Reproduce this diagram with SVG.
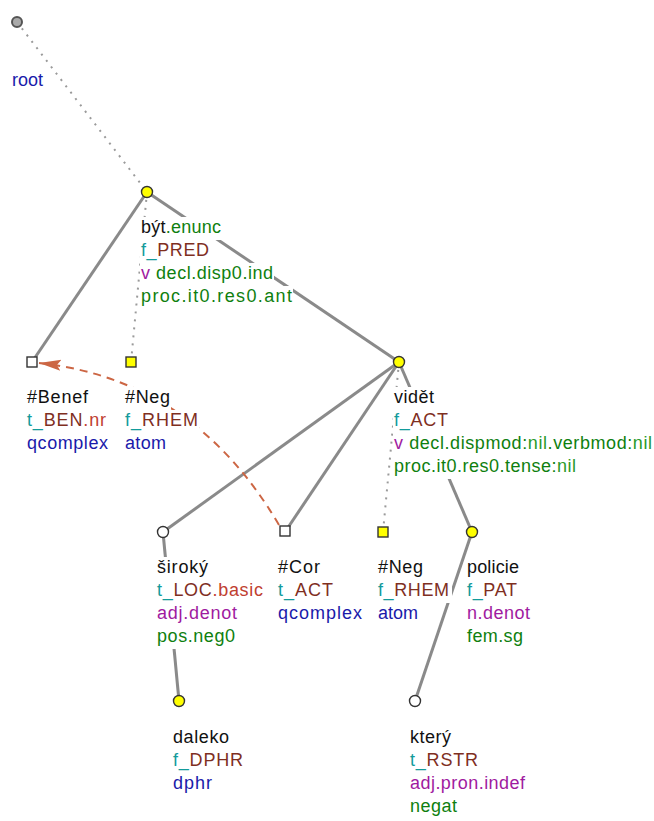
<svg xmlns="http://www.w3.org/2000/svg" width="654" height="821" viewBox="0 0 654 821">
<style>
text{font-family:"Liberation Sans",Arial,sans-serif;font-size:18px;fill:#111}
.bg{fill:#fff}
.e{stroke:#8a8a8a;stroke-width:3;fill:none}
.d{stroke:#9a9a9a;stroke-width:2;stroke-dasharray:2 6;fill:none}
.cor{stroke:#cc6644;stroke-width:2;stroke-dasharray:8 6;fill:none}
.ny{fill:#ffff00;stroke:#333;stroke-width:1.4}
.nw{fill:#fff;stroke:#333;stroke-width:1.4}
.nr{fill:#aaa;stroke:#555;stroke-width:2}
.k{fill:#111}.t{fill:#139b9b}.b{fill:#7f2f1f}.r{fill:#c04030}.u{fill:#1a1aaa}.p{fill:#a01aa0}.g{fill:#0f7f0f}.l{fill:#2a9a2a}
</style>
<defs>
<marker id="ar" markerUnits="userSpaceOnUse" markerWidth="24" markerHeight="14" viewBox="0 0 24 14" refX="22" refY="7" orient="auto"><path d="M0,1.5 L22,7 L0,12.5 L4,7 z" fill="#cc6644"/></marker>
</defs>
<rect width="654" height="821" fill="#fff"/>
<g id="connectors">
<line class="d" x1="17" y1="22" x2="147" y2="192"/>
<line class="e" x1="147" y1="192" x2="32" y2="362"/>
<line class="d" x1="147" y1="192" x2="131" y2="362"/>
<line class="e" x1="147" y1="192" x2="399" y2="362"/>
<line class="e" x1="399" y1="362" x2="163" y2="532"/>
<line class="e" x1="399" y1="362" x2="285" y2="532"/>
<line class="d" x1="399" y1="362" x2="383" y2="532"/>
<line class="e" x1="399" y1="362" x2="472" y2="532"/>
<line class="e" x1="163" y1="532" x2="179" y2="701"/>
<line class="e" x1="472" y1="532" x2="415" y2="701"/>
<path class="cor" d="M279,525 Q193.5,379.5 39,363" marker-end="url(#ar)"/>
</g>
<g id="n-root">
<rect class="bg" x="11" y="70" width="33" height="23"/>
<text x="12" y="86" textLength="31" class="u">root</text>
<circle class="nr" cx="17" cy="22" r="5"/>
</g>
<g id="n-byt">
<rect class="bg" x="140" y="217" width="82" height="23"/>
<rect class="bg" x="140" y="240" width="70" height="23"/>
<rect class="bg" x="140" y="263" width="134" height="23"/>
<rect class="bg" x="140" y="286" width="153" height="23"/>
<text x="141" y="233" textLength="80"><tspan class="k">být</tspan><tspan class="g">.enunc</tspan></text>
<text x="141" y="256" textLength="68"><tspan class="t">f_</tspan><tspan class="b">PRED</tspan></text>
<text x="141" y="279" textLength="132"><tspan class="p">v</tspan><tspan class="g"> decl.disp0.ind</tspan></text>
<text x="141" y="302" textLength="151" class="g">proc.it0.res0.ant</text>
<circle class="ny" cx="147" cy="192" r="5.5"/>
</g>
<g id="n-benef">
<rect class="bg" x="26" y="387" width="63" height="23"/>
<rect class="bg" x="26" y="410" width="81" height="23"/>
<rect class="bg" x="26" y="433" width="83" height="23"/>
<text x="27" y="403" textLength="61" class="k">#Benef</text>
<text x="27" y="426" textLength="79"><tspan class="t">t_</tspan><tspan class="b">BEN</tspan><tspan class="r">.nr</tspan></text>
<text x="27" y="449" textLength="81" class="u">qcomplex</text>
<rect class="nw" x="27" y="357" width="10" height="10"/>
</g>
<g id="n-neg1">
<rect class="bg" x="124" y="387" width="47" height="23"/>
<rect class="bg" x="124" y="410" width="75" height="23"/>
<rect class="bg" x="124" y="433" width="43" height="23"/>
<text x="125" y="403" textLength="45" class="k">#Neg</text>
<text x="125" y="426" textLength="73"><tspan class="t">f_</tspan><tspan class="b">RHEM</tspan></text>
<text x="125" y="449" textLength="41" class="u">atom</text>
<rect class="ny" x="126" y="357" width="10" height="10"/>
</g>
<g id="n-videt">
<rect class="bg" x="393" y="387" width="42" height="23"/>
<rect class="bg" x="393" y="410" width="56" height="23"/>
<rect class="bg" x="393" y="433" width="260" height="23"/>
<rect class="bg" x="393" y="456" width="184" height="23"/>
<text x="394" y="403" textLength="40" class="k">vidět</text>
<text x="394" y="426" textLength="54"><tspan class="t">f_</tspan><tspan class="b">ACT</tspan></text>
<text x="394" y="449" textLength="258"><tspan class="p">v</tspan><tspan class="g"> decl.dispmod:</tspan><tspan class="l">nil</tspan><tspan class="g">.verbmod:</tspan><tspan class="l">nil</tspan></text>
<text x="394" y="472" textLength="182"><tspan class="g">proc.it0.res0.tense:</tspan><tspan class="l">nil</tspan></text>
<circle class="ny" cx="399" cy="362" r="5.5"/>
</g>
<g id="n-siroky">
<rect class="bg" x="156" y="557" width="53" height="23"/>
<rect class="bg" x="156" y="580" width="108" height="23"/>
<rect class="bg" x="156" y="603" width="82" height="23"/>
<rect class="bg" x="156" y="626" width="80" height="23"/>
<text x="157" y="573" textLength="51" class="k">široký</text>
<text x="157" y="596" textLength="106"><tspan class="t">t_</tspan><tspan class="b">LOC</tspan><tspan class="r">.basic</tspan></text>
<text x="157" y="619" textLength="80" class="p">adj.denot</text>
<text x="157" y="642" textLength="78" class="g">pos.neg0</text>
<circle class="nw" cx="163" cy="532" r="5.5"/>
</g>
<g id="n-cor">
<rect class="bg" x="277" y="557" width="44" height="23"/>
<rect class="bg" x="277" y="580" width="57" height="23"/>
<rect class="bg" x="277" y="603" width="86" height="23"/>
<text x="278" y="573" textLength="42" class="k">#Cor</text>
<text x="278" y="596" textLength="55"><tspan class="t">t_</tspan><tspan class="b">ACT</tspan></text>
<text x="278" y="619" textLength="84" class="u">qcomplex</text>
<rect class="nw" x="280" y="526" width="10" height="10"/>
</g>
<g id="n-neg2">
<rect class="bg" x="377" y="557" width="47" height="23"/>
<rect class="bg" x="377" y="580" width="75" height="23"/>
<rect class="bg" x="377" y="603" width="42" height="23"/>
<text x="378" y="573" textLength="45" class="k">#Neg</text>
<text x="378" y="596" textLength="71"><tspan class="t">f_</tspan><tspan class="b">RHEM</tspan></text>
<text x="378" y="619" textLength="40" class="u">atom</text>
<rect class="ny" x="378" y="527" width="10" height="10"/>
</g>
<g id="n-policie">
<rect class="bg" x="466" y="557" width="54" height="23"/>
<rect class="bg" x="466" y="580" width="52" height="23"/>
<rect class="bg" x="466" y="603" width="65" height="23"/>
<rect class="bg" x="466" y="626" width="58" height="23"/>
<text x="467" y="573" textLength="52" class="k">policie</text>
<text x="467" y="596" textLength="50"><tspan class="t">f_</tspan><tspan class="b">PAT</tspan></text>
<text x="467" y="619" textLength="63" class="p">n.denot</text>
<text x="467" y="642" textLength="56" class="g">fem.sg</text>
<circle class="ny" cx="472" cy="532" r="5.5"/>
</g>
<g id="n-daleko">
<rect class="bg" x="172" y="727" width="58" height="23"/>
<rect class="bg" x="172" y="750" width="72" height="23"/>
<rect class="bg" x="172" y="773" width="41" height="23"/>
<text x="173" y="743" textLength="56" class="k">daleko</text>
<text x="173" y="766" textLength="70"><tspan class="t">f_</tspan><tspan class="b">DPHR</tspan></text>
<text x="173" y="789" textLength="39" class="u">dphr</text>
<circle class="ny" cx="179" cy="701" r="5.5"/>
</g>
<g id="n-ktery">
<rect class="bg" x="409" y="727" width="43" height="23"/>
<rect class="bg" x="409" y="750" width="70" height="23"/>
<rect class="bg" x="409" y="773" width="117" height="23"/>
<rect class="bg" x="409" y="796" width="49" height="23"/>
<text x="410" y="743" textLength="41" class="k">který</text>
<text x="410" y="766" textLength="68"><tspan class="t">t_</tspan><tspan class="b">RSTR</tspan></text>
<text x="410" y="789" textLength="115" class="p">adj.pron.indef</text>
<text x="410" y="812" textLength="47" class="g">negat</text>
<circle class="nw" cx="415" cy="701" r="5.5"/>
</g>
</svg>
